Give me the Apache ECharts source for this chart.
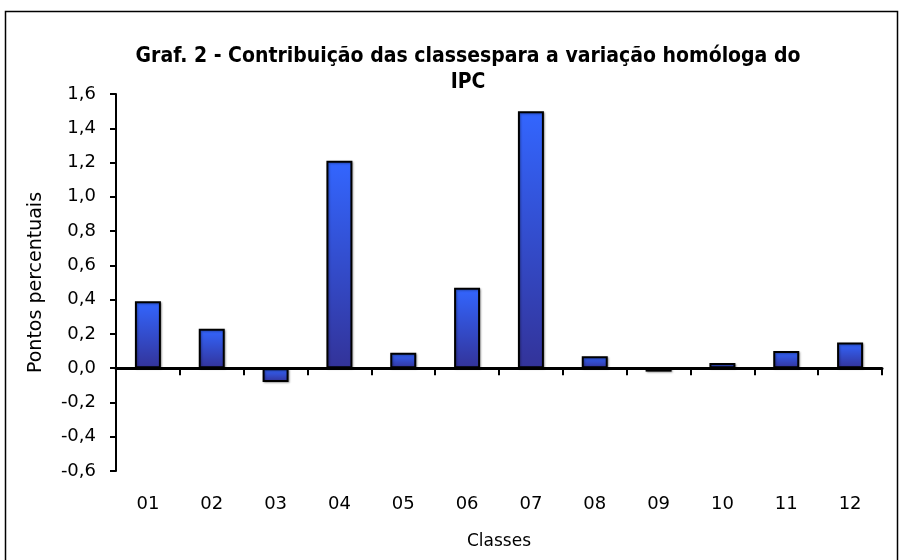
<!DOCTYPE html>
<html><head><meta charset="utf-8">
<script src="https://cdn.jsdelivr.net/npm/echarts@6/dist/echarts.min.js"></script>
<style>html,body{margin:0;padding:0;background:#fff}#c{width:903px;height:560px}</style>
</head><body><div id="c"></div>
<script>
const categories = ['01','02','03','04','05','06','07','08','09','10','11','12'];
const values = [0.39, 0.23, -0.08, 1.21, 0.09, 0.47, 1.50, 0.07, -0.02, 0.03, 0.10, 0.15];
const titleText = 'Graf. 2 - Contribuição das classespara a variação homóloga do\nIPC';
const yName = 'Pontos percentuais';
const xName = 'Classes';

const chart = echarts.init(document.getElementById('c'), null, {renderer:'canvas'});
const fmt = v => v.toFixed(1).replace('.', ',');
const grad = new echarts.graphic.LinearGradient(0,0,0,1,[{offset:0,color:'#3366ff'},{offset:1,color:'#333399'}]);
chart.setOption({
  animation:false,
  textStyle:{fontFamily:'DejaVu Sans'},
  title:{text:titleText,left:463,top:39,textAlign:'center',
    textStyle:{fontFamily:'DejaVu Sans Condensed, DejaVu Sans',fontWeight:'bold',fontSize:21,lineHeight:26,color:'#000'}},
  graphic:[{type:'rect',shape:{x:5.5,y:11.5,width:892,height:560},style:{fill:'none',stroke:'#000',lineWidth:1.5},silent:true}],
  grid:{left:116,right:21,top:94,bottom:89},
  xAxis:[{
    type:'category',data:categories,position:'bottom',
    axisLine:{onZero:true,lineStyle:{color:'#000',width:3}},
    axisTick:{show:true,inside:false,length:7,lineStyle:{color:'#000',width:2}},
    axisLabel:{show:false},splitLine:{show:false}
  },{
    type:'category',data:categories,position:'bottom',
    axisLine:{show:false,onZero:false},axisTick:{show:false},
    axisLabel:{show:true,margin:24,fontSize:18,color:'#000',fontFamily:'DejaVu Sans'},
    name:xName,nameLocation:'middle',nameGap:62,
    nameTextStyle:{fontSize:17,color:'#000',fontFamily:'DejaVu Sans'}
  }],
  yAxis:{type:'value',min:-0.6,max:1.6,interval:0.2,
    axisLine:{show:true,onZero:false,lineStyle:{color:'#000',width:2}},
    axisTick:{show:true,length:6,lineStyle:{color:'#000',width:2}},
    splitLine:{show:false},
    axisLabel:{formatter:fmt,fontSize:18,color:'#000',margin:20,fontFamily:'DejaVu Sans'},
    name:yName,nameLocation:'middle',nameGap:70,
    nameTextStyle:{fontSize:19,color:'#000',fontFamily:'DejaVu Sans'}
  },
  series:[{type:'bar',data:values,xAxisIndex:0,barWidth:26,
    itemStyle:{color:grad,borderColor:'#000',borderWidth:2,shadowColor:'rgba(0,0,0,0.3)',shadowBlur:2,shadowOffsetX:1,shadowOffsetY:1}}]
});
</script></body></html>
